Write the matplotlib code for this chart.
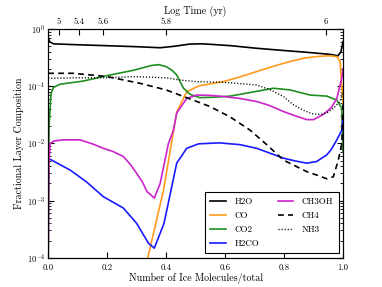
import numpy as np
import matplotlib
matplotlib.use("Agg")
import matplotlib.pyplot as plt
from matplotlib.ticker import LogLocator, NullFormatter

plt.rcParams['font.family'] = 'serif'
plt.rcParams['font.serif'] = ['cmr10', 'DejaVu Serif']
plt.rcParams['mathtext.fontset'] = 'cm'
plt.rcParams['axes.formatter.use_mathtext'] = True
plt.rcParams['axes.unicode_minus'] = False

# ---- data ----
h2o_x = [0.0, 0.005, 0.018, 0.1, 0.2, 0.3, 0.38, 0.43, 0.48, 0.52, 0.55, 0.62, 0.707, 0.8, 0.88, 0.956, 0.983, 0.993, 1.0]
h2o_y = [0.72, 0.6, 0.55, 0.53, 0.51, 0.49, 0.47, 0.5, 0.545, 0.55, 0.54, 0.51, 0.46, 0.42, 0.39, 0.36, 0.34, 0.4, 0.6]

co_x = [0.33, 0.338, 0.391, 0.436, 0.47, 0.504, 0.515, 0.55, 0.594, 0.65, 0.707, 0.76, 0.82, 0.87, 0.91, 0.95, 0.979, 0.99, 1.0]
co_y = [5e-5, 1e-4, 1.5e-3, 0.035, 0.08, 0.097, 0.102, 0.11, 0.12, 0.145, 0.18, 0.22, 0.27, 0.31, 0.33, 0.34, 0.33, 0.27, 0.05]

co2_x = [0.0, 0.003, 0.01, 0.018, 0.04, 0.12, 0.2, 0.29, 0.35, 0.375, 0.40, 0.42, 0.436, 0.459, 0.481, 0.515, 0.56, 0.617, 0.7, 0.764, 0.82, 0.888, 0.945, 0.979, 0.996, 1.0]
co2_y = [5e-5, 0.02, 0.075, 0.095, 0.108, 0.123, 0.153, 0.19, 0.23, 0.238, 0.22, 0.19, 0.157, 0.092, 0.072, 0.063, 0.064, 0.067, 0.08, 0.092, 0.086, 0.070, 0.067, 0.057, 0.041, 0.007]

ch3oh_x = [0.0, 0.003, 0.007, 0.02, 0.05, 0.108, 0.15, 0.187, 0.22, 0.255, 0.28, 0.30, 0.32, 0.335, 0.345, 0.36, 0.38, 0.408, 0.425, 0.436, 0.47, 0.504, 0.55, 0.594, 0.65, 0.707, 0.75, 0.798, 0.84, 0.877, 0.9, 0.933, 0.96, 0.979, 0.996, 1.0]
ch3oh_y = [5e-5, 0.005, 0.010, 0.011, 0.0115, 0.0115, 0.0098, 0.0082, 0.0072, 0.0059, 0.0042, 0.003, 0.0021, 0.00144, 0.0013, 0.0011, 0.002, 0.010, 0.017, 0.034, 0.061, 0.070, 0.069, 0.066, 0.061, 0.054, 0.046, 0.036, 0.03, 0.026, 0.026, 0.032, 0.042, 0.061, 0.14, 0.2]

h2co_x = [0.0, 0.075, 0.131, 0.187, 0.255, 0.30, 0.34, 0.36, 0.393, 0.436, 0.47, 0.51, 0.58, 0.65, 0.707, 0.75, 0.798, 0.84, 0.877, 0.91, 0.945, 0.96, 0.979, 0.996, 1.0]
h2co_y = [0.0055, 0.0034, 0.0021, 0.00117, 0.00074, 0.0004, 0.00018, 0.000147, 0.0004, 0.0045, 0.0082, 0.0098, 0.0102, 0.0095, 0.0082, 0.0068, 0.0055, 0.0049, 0.0045, 0.0048, 0.0063, 0.0078, 0.0115, 0.017, 0.03]

ch4_x = [0.0, 0.086, 0.2, 0.312, 0.40, 0.459, 0.504, 0.549, 0.617, 0.685, 0.741, 0.798, 0.877, 0.91, 0.945, 0.967, 0.984, 0.996, 1.0]
ch4_y = [0.168, 0.168, 0.147, 0.112, 0.086, 0.066, 0.054, 0.044, 0.029, 0.017, 0.0095, 0.0051, 0.0032, 0.0028, 0.0024, 0.0026, 0.0051, 0.01, 0.05]

nh3_x = [0.0, 0.086, 0.2, 0.29, 0.40, 0.447, 0.504, 0.594, 0.707, 0.75, 0.798, 0.83, 0.865, 0.895, 0.922, 0.945, 0.967, 0.99, 1.0]
nh3_y = [0.137, 0.14, 0.14, 0.147, 0.14, 0.128, 0.12, 0.117, 0.105, 0.088, 0.066, 0.048, 0.038, 0.033, 0.032, 0.034, 0.041, 0.054, 0.08]

top_tick_pos = [0.037, 0.104, 0.186, 0.399, 0.942]
top_tick_labels = ['5', '5.4', '5.6', '5.8', '6']

fig = plt.figure(figsize=(3.82, 2.87), dpi=100)
ax = fig.add_axes([0.126, 0.102, 0.772, 0.797])

lw = 1.2
ax.plot(h2o_x, h2o_y, color='black', lw=lw, label='H2O')
ax.plot(co_x, co_y, color='#ff9a1a', lw=lw, label='CO')
ax.plot(co2_x, co2_y, color='#1f8f1f', lw=lw, label='CO2')
ax.plot(h2co_x, h2co_y, color='#1a1aff', lw=lw, label='H2CO')
ax.plot(ch3oh_x, ch3oh_y, color='#cc22cc', lw=lw, label='CH3OH')
ax.plot(ch4_x, ch4_y, color='black', lw=lw, ls=(0, (3.5, 2.5)), label='CH4')
ax.plot(nh3_x, nh3_y, color='black', lw=1.0, ls=(0, (0.8, 1.4)), label='NH3')

ax.set_yscale('log')
ax.set_ylim(1e-4, 1)
ax.set_xlim(0, 1)
ax.set_xticks([0.0, 0.2, 0.4, 0.6, 0.8, 1.0])
ax.set_xticklabels(['0.0', '0.2', '0.4', '0.6', '0.8', '1.0'])
ax.yaxis.set_major_locator(LogLocator(base=10, numticks=10))
ax.yaxis.set_minor_locator(LogLocator(base=10, subs=np.arange(2, 10), numticks=20))
ax.yaxis.set_minor_formatter(NullFormatter())
ax.tick_params(axis='both', which='both', direction='in', labelsize=6.3)
ax.tick_params(axis='y', which='both', right=True)
ax.tick_params(axis='x', top=False, pad=4)
ax.tick_params(axis='y', pad=2)
ax.tick_params(which='major', length=4)
ax.tick_params(which='minor', length=2)
ax.set_xlabel('Number of Ice Molecules/total', fontsize=7.2, labelpad=1)
ax.set_ylabel('Fractional Layer Composition', fontsize=7.2, labelpad=2)

ax2 = ax.twiny()
ax2.set_xlim(0, 1)
ax2.set_xticks(top_tick_pos)
ax2.set_xticklabels(top_tick_labels)
ax2.tick_params(direction='in', labelsize=6.3, length=4, pad=2)
ax2.set_xlabel('Log Time (yr)', fontsize=7.2, labelpad=3)

leg = ax.legend(loc='lower right', ncol=2, fontsize=6.5, frameon=True, fancybox=False,
                edgecolor='black', framealpha=1, borderpad=0.6, handlelength=1.7,
                handletextpad=1.0, columnspacing=2.0, labelspacing=0.6,
                borderaxespad=0, bbox_to_anchor=(0.986, 0.02))
leg.get_frame().set_linewidth(0.8)

fig.savefig('out.png', dpi=100)
